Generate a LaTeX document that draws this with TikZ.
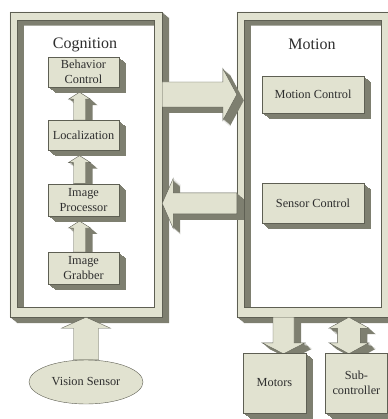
\documentclass[tikz,border=0pt]{standalone}
\usepackage{fontspec}
\setmainfont{Liberation Serif}
\usetikzlibrary{positioning, calc, shapes.geometric, shadows}

\definecolor{face}{HTML}{E1E2D0}
\definecolor{side}{HTML}{7E7F70}
\definecolor{edge}{HTML}{5E5F53}
\definecolor{ink}{HTML}{2E2E2E}

\pgfdeclarelayer{frames}
\pgfdeclarelayer{arrows}
\pgfsetlayers{frames,arrows,main}

\tikzset{
  depthstep/.style={general shadow={fill=side, even odd rule, shadow xshift=#1pt, shadow yshift=-0.85*#1pt}},
  depth/.style={depthstep/.list={1,2,3,4,5,6,7}},
  solid/.style={fill=face, draw=edge, line width=0.4pt, depth},
  flat/.style={fill=face, draw=edge, line width=0.4pt},
  block/.style={solid, rectangle, inner sep=0pt, align=center, text=ink,
    font=\fontsize{12.3}{14.5}\selectfont},
  title/.style={text=ink, font=\fontsize{16}{19}\selectfont},
}

% block arrow: [style] name, tail, tip, shaft half width, head half width, head length
\newcommand{\flowarrow}[7][solid]{%
  \coordinate (#2-h) at ($(#4)!#7!(#3)$);
  \path[#1] ($(#3)!#5!90:(#4)$) -- ($(#2-h)!#5!90:(#4)$) -- ($(#2-h)!#6!90:(#4)$) -- (#4)
    -- ($(#2-h)!#6!-90:(#4)$) -- ($(#2-h)!#5!-90:(#4)$) -- ($(#3)!#5!-90:(#4)$) -- cycle;
}
% block arrow with two heads: name, end a, end b, shaft half width, head half width, head length
\newcommand{\flowarrowboth}[6]{%
  \coordinate (#1-a) at ($(#2)!#6!(#3)$);
  \coordinate (#1-b) at ($(#3)!#6!(#2)$);
  \path[solid] (#2) -- ($(#1-a)!#5!90:(#3)$) -- ($(#1-a)!#4!90:(#3)$) -- ($(#1-b)!#4!90:(#3)$)
    -- ($(#1-b)!#5!90:(#3)$) -- (#3) -- ($(#1-b)!#5!-90:(#3)$) -- ($(#1-b)!#4!-90:(#3)$)
    -- ($(#1-a)!#4!-90:(#3)$) -- ($(#1-a)!#5!-90:(#3)$) -- cycle;
}

\begin{document}
\begin{tikzpicture}[x=1pt, y=-1pt]
  \useasboundingbox (0,0) rectangle (387,419);

  % the two frames
  \path node[minimum width=152pt, minimum height=305pt, inner sep=0pt] (cog) at (86,164.5) {};
  \path node[minimum width=155pt, minimum height=305pt, inner sep=0pt] (mot) at (314.5,164.5) {};
  \begin{pgfonlayer}{frames}
    \path[solid, even odd rule] (cog.north west) rectangle (cog.south east)
      ($(cog.north west)+(7,8)$) rectangle ($(cog.south east)+(-8,-10)$);
    \path[solid, even odd rule] (mot.north west) rectangle (mot.south east)
      ($(mot.north west)+(7,8)$) rectangle ($(mot.south east)+(-11,-10)$);
  \end{pgfonlayer}
  \node [title] (cogtitle) at (85,45) {Cognition};
  \node [title] (mottitle) at (312,44) {Motion};

  % blocks
  \node [block, minimum width=71pt, minimum height=30pt] (beh) at (83.5,72) {Behavior\\Control};
  \node [block, minimum width=71pt, minimum height=30pt, below=33pt of beh] (loc) {Localization};
  \node [block, minimum width=71pt, minimum height=32pt, below=33pt of loc] (proc) {Image\\Processor};
  \node [block, minimum width=71pt, minimum height=32pt, below=36pt of proc] (grab) {Image\\Grabber};
  \node [block, minimum width=102pt, minimum height=37pt] (motc) at (313,94.5) {Motion Control};
  \node [block, minimum width=102pt, minimum height=40pt, below=70pt of motc] (senc) {Sensor Control};
  \node [block, minimum width=63pt, minimum height=60pt] (motors) at (274.5,383) {Motors};
  \node [block, minimum width=62pt, minimum height=60pt, right=19pt of motors] (sub) {Sub-\\controller};
  \node [ellipse, flat, minimum width=114pt, minimum height=44pt, inner sep=0pt, text=ink,
    font=\fontsize{12.3}{14.5}\selectfont] (vis) at (86,382) {Vision Sensor};

  % arrows
  \begin{pgfonlayer}{arrows}
    \foreach \a/\b in {loc/beh, proc/loc, grab/proc}{
      \coordinate (\a-out) at ($(\a.north)+(-4,0)$);
      \coordinate (\b-in) at ($(\b.south)+(-4,5)$);
      \flowarrow{\a-up}{\a-out}{\b-in}{6pt}{11pt}{7pt}
    }
    \coordinate (vis-out) at (vis.north);
    \coordinate (cog-bottom) at (vis.north |- cog.south);
    \flowarrow[flat]{visup}{vis-out}{cog-bottom}{12.5pt}{24.5pt}{11pt}
    \coordinate (cog-out) at (cog.east |- motc.west);
    \coordinate (mot-in) at (mot.west |- motc.west);
    \flowarrow{cogmot}{cog-out}{mot-in}{12.5pt}{26pt}{14pt}
    \coordinate (mot-out) at (mot.west |- senc.west);
    \coordinate (cog-in) at (cog.east |- senc.west);
    \flowarrow{motcog}{mot-out}{cog-in}{10.5pt}{25pt}{11pt}
    \coordinate (mot-down) at ($(motors.north |- mot.south)+(9,0)$);
    \coordinate (motors-in) at ($(motors.north)+(9,1)$);
    \flowarrow{motmotors}{mot-down}{motors-in}{10.5pt}{21.5pt}{11pt}
    \coordinate (mot-sub) at ($(sub.north |- mot.south)+(-7.5,0)$);
    \coordinate (sub-in) at ($(sub.north)+(-7.5,1)$);
    \flowarrowboth{motsub}{mot-sub}{sub-in}{11.5pt}{20pt}{11pt}
  \end{pgfonlayer}
\end{tikzpicture}
\end{document}
